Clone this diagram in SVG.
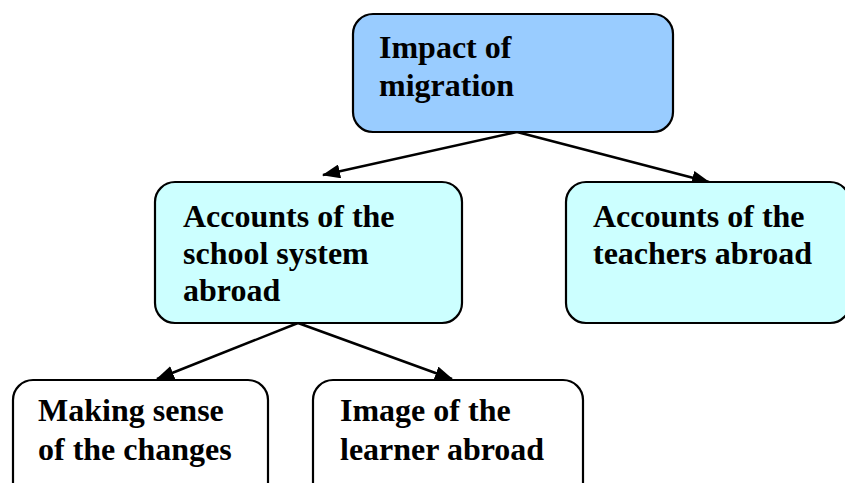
<svg xmlns="http://www.w3.org/2000/svg" width="845" height="483" viewBox="0 0 845 483">
  <style>
    .box { stroke: #000; stroke-width: 2.2; }
    .root { fill: #99ccff; }
    .mid { fill: #ccffff; }
    .leaf { fill: #ffffff; }
    .lbl { font-family: "Liberation Serif", "Times New Roman", serif; font-weight: bold; font-size: 32px; fill: #000; }
    .edge { stroke: #000; stroke-width: 2.5; fill: none; marker-end: url(#head); }
  </style>
  <defs>
    <marker id="head" viewBox="0 0 18 14" refX="17" refY="7" markerWidth="18" markerHeight="14" markerUnits="userSpaceOnUse" orient="auto">
      <path d="M0,0 L18,7 L0,14 Z" fill="#000"/>
    </marker>
  </defs>
  <rect width="845" height="483" fill="#fff"/>

  <g id="connectors">
    <line class="edge" x1="517" y1="132" x2="323" y2="175"/>
    <line class="edge" x1="517" y1="132" x2="709" y2="182"/>
    <line class="edge" x1="298" y1="323" x2="157" y2="379"/>
    <line class="edge" x1="298" y1="323" x2="452" y2="379"/>
  </g>

  <g id="impact-of-migration">
    <rect class="box root" x="353" y="14" width="320" height="118" rx="20"/>
    <text class="lbl" x="379" y="58">Impact of</text>
    <text class="lbl" x="379" y="96">migration</text>
  </g>

  <g id="school-system-abroad">
    <rect class="box mid" x="155" y="182" width="307" height="141" rx="20"/>
    <text class="lbl" x="183" y="227">Accounts of the</text>
    <text class="lbl" x="183" y="264">school system</text>
    <text class="lbl" x="183" y="301">abroad</text>
  </g>

  <g id="teachers-abroad">
    <rect class="box mid" x="566" y="182" width="284" height="141" rx="20"/>
    <text class="lbl" x="593" y="227">Accounts of the</text>
    <text class="lbl" x="593" y="264">teachers abroad</text>
  </g>

  <g id="making-sense">
    <rect class="box leaf" x="13" y="380" width="255" height="130" rx="20"/>
    <text class="lbl" x="38" y="421">Making sense</text>
    <text class="lbl" x="38" y="460">of the changes</text>
  </g>

  <g id="image-of-learner">
    <rect class="box leaf" x="313" y="380" width="270" height="130" rx="20"/>
    <text class="lbl" x="340" y="421">Image of the</text>
    <text class="lbl" x="340" y="460">learner abroad</text>
  </g>
</svg>
